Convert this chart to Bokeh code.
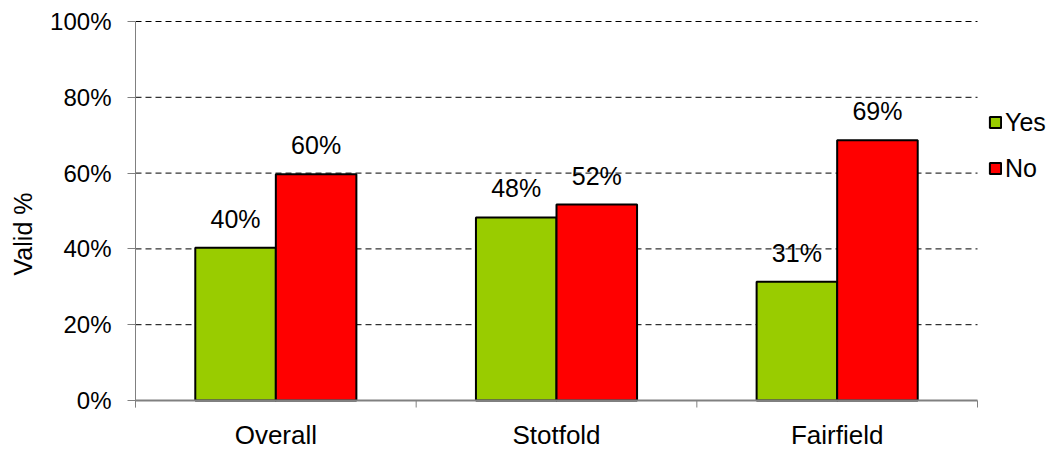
from bokeh.plotting import figure
from bokeh.models import ColumnDataSource, FixedTicker, PrintfTickFormatter, Range1d, Legend, LegendItem
from bokeh.embed import file_html
from bokeh.resources import INLINE
from bokeh.core.properties import value

# ---- data ----
categories = ["Overall", "Stotfold", "Fairfield"]
yes_values = [40.3, 48.3, 31.3]
no_values = [59.7, 51.7, 68.7]
series_names = ["Yes", "No"]
series_colors = ["#99CC00", "#FF0000"]
y_ticks = [0, 20, 40, 60, 80, 100]

# ---- layout constants (pixels) ----
W, H = 1059, 450
LEFT, TOP = 135, 17
TOP_100 = 21             # screen y of the 100% line
ZERO_PX = 400            # screen y of the 0% line
CAT_PX = 842 / 3         # width of one category slot
TICK_LEN = 7
FONT = "Liberation Sans"

ppu = (ZERO_PX - TOP_100) / 100.0
y_min = -(H - ZERO_PX) / ppu
y_max = 100 + (TOP_100 - TOP) / ppu
ncat = len(categories)
x_end = (W - LEFT) / CAT_PX
bar_w = 0.287

centers = [i + 0.5 for i in range(ncat)]
src_yes = ColumnDataSource(dict(x=[c - bar_w / 2 for c in centers], top=yes_values,
                                lab=["%d%%" % round(v) for v in yes_values]))
src_no = ColumnDataSource(dict(x=[c + bar_w / 2 for c in centers], top=no_values,
                               lab=["%d%%" % round(v) for v in no_values]))
src_cat = ColumnDataSource(dict(x=centers, y=[0] * ncat, name=categories))
bounds = list(range(ncat + 1))
src_ticks = ColumnDataSource(dict(x=bounds, y0=[0] * len(bounds), y1=[-TICK_LEN / ppu] * len(bounds)))
src_grid = ColumnDataSource(dict(y=y_ticks[1:], x0=[0] * (len(y_ticks) - 1), x1=[ncat] * (len(y_ticks) - 1)))

p = figure(width=W, height=H, output_backend="svg", toolbar_location=None,
           x_axis_type=None,
           x_range=Range1d(0, x_end), y_range=Range1d(y_min, y_max),
           min_border_left=LEFT, min_border_right=0, min_border_top=TOP, min_border_bottom=0)
p.outline_line_color = None
p.background_fill_color = "white"
p.border_fill_color = "white"
p.xgrid.grid_line_color = None
p.ygrid.grid_line_color = None

# dashed value grid across the category area
p.segment(x0="x0", y0="y", x1="x1", y1="y", source=src_grid,
          line_color="#000000", line_dash="6 4", line_width=1)

# bars
r_yes = p.vbar(x="x", top="top", width=bar_w, bottom=0, source=src_yes,
               fill_color=series_colors[0], line_color="black", line_width=2)
r_no = p.vbar(x="x", top="top", width=bar_w, bottom=0, source=src_no,
              fill_color=series_colors[1], line_color="black", line_width=2)

# value labels
for src in (src_yes, src_no):
    p.text(x="x", y="top", text="lab", source=src, text_align="center", text_baseline="bottom",
           y_offset=-15, text_font=value(FONT), text_font_size="25px", text_color="black")

# category axis (drawn at 0%)
p.segment(x0=0, y0=0, x1=ncat, y1=0, line_color="#808080", line_width=2)
p.segment(x0="x", y0="y0", x1="x", y1="y1", source=src_ticks, line_color="#808080", line_width=1)
p.text(x="x", y="y", text="name", source=src_cat, text_align="center", text_baseline="bottom",
       y_offset=49, text_font=value(FONT), text_font_size="26px", text_color="black")

# value axis
p.yaxis.ticker = FixedTicker(ticks=y_ticks, minor_ticks=[])
p.yaxis.formatter = PrintfTickFormatter(format="%d%%")
p.yaxis.bounds = (-TICK_LEN / ppu, 100)
p.yaxis.axis_line_color = "#808080"
p.yaxis.axis_line_width = 1
p.yaxis.major_tick_line_color = "#808080"
p.yaxis.major_tick_out = 8
p.yaxis.major_tick_in = 0
p.yaxis.major_label_text_font = FONT
p.yaxis.major_label_text_font_size = "24px"
p.yaxis.major_label_text_color = "black"
p.yaxis.major_label_standoff = 16
p.yaxis.axis_label = "Valid %"
p.yaxis.axis_label_text_font = FONT
p.yaxis.axis_label_text_font_size = "25px"
p.yaxis.axis_label_text_font_style = "normal"
p.yaxis.axis_label_text_color = "black"
p.yaxis.axis_label_standoff = 10

legend = Legend(items=[LegendItem(label=series_names[0], renderers=[r_yes]),
                       LegendItem(label=series_names[1], renderers=[r_no])],
                location=(853, 267), padding=0, margin=0, spacing=16,
                glyph_width=14, glyph_height=14, label_standoff=3, label_height=30,
                label_text_font=FONT, label_text_font_size="25px", label_text_color="black",
                border_line_color=None, background_fill_alpha=0)
p.add_layout(legend, "center")

open("out.html", "w").write(file_html(p, INLINE))
